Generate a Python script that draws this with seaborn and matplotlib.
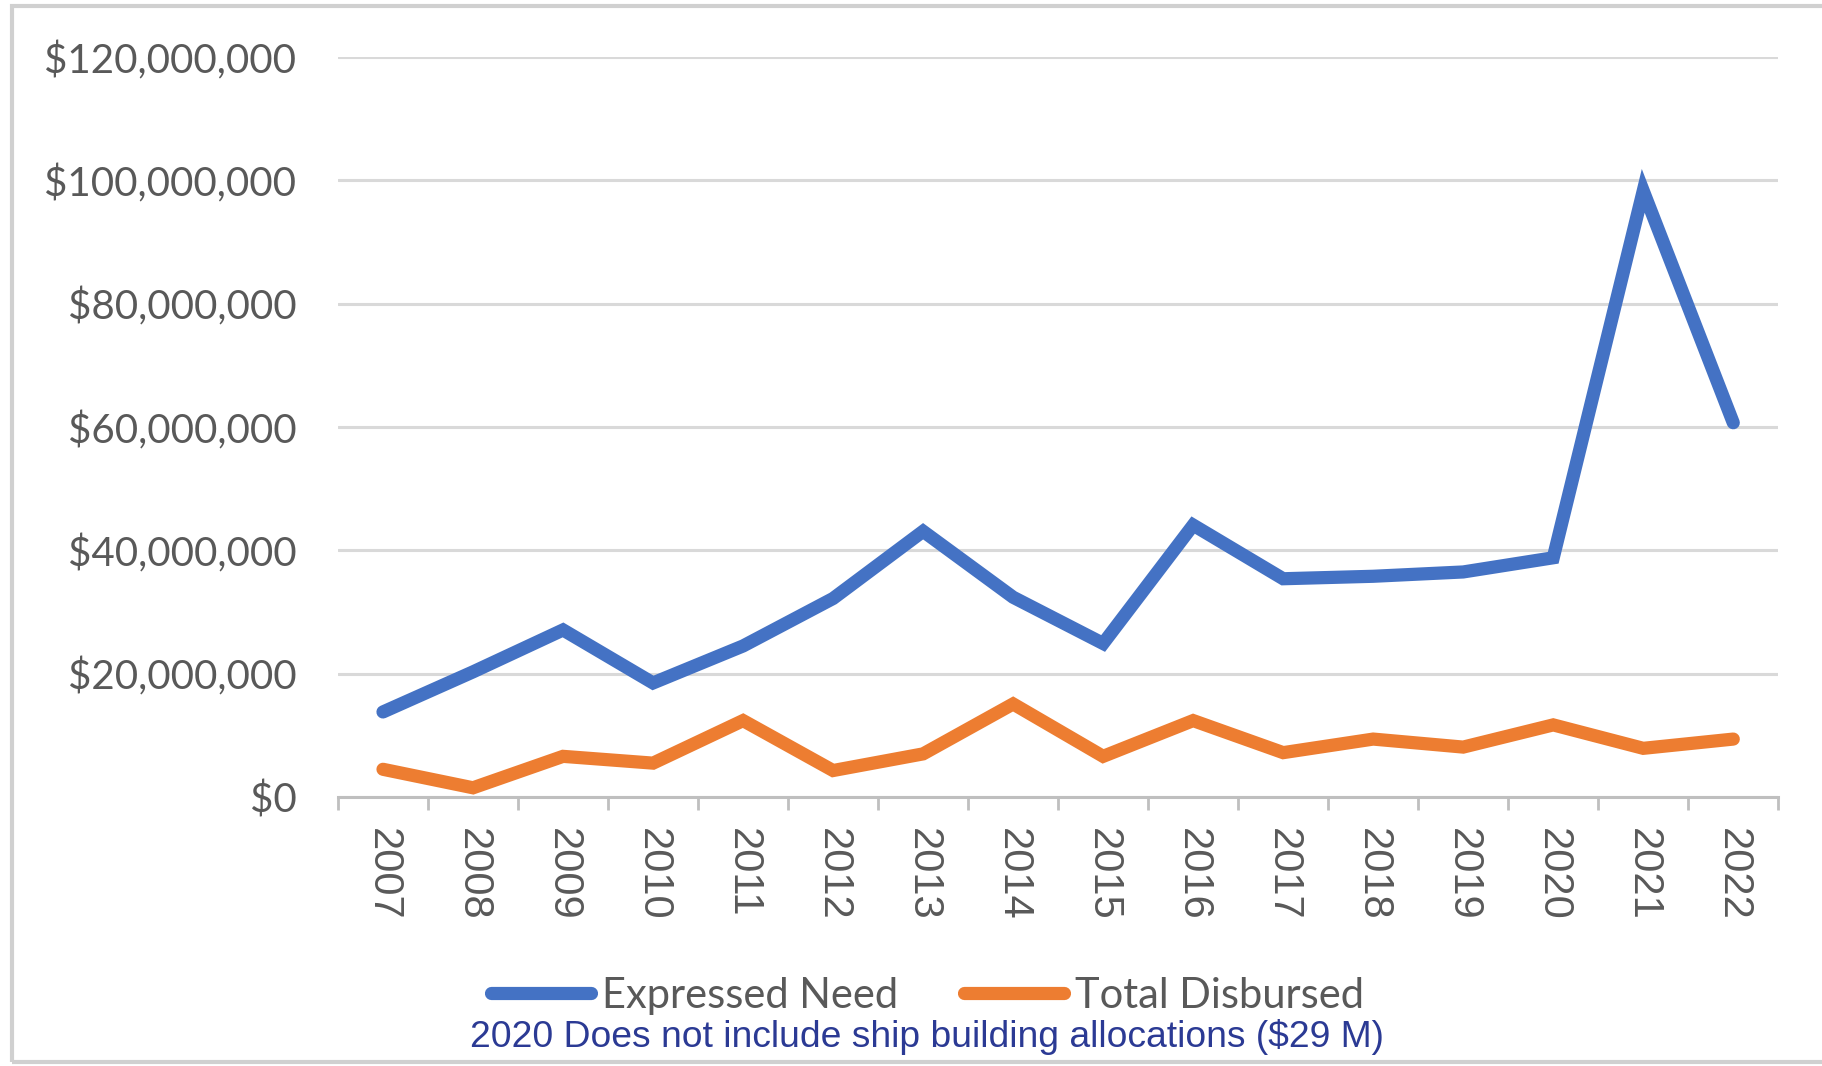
import numpy as np
import pandas as pd
import seaborn as sns
from matplotlib import pyplot as plt
from matplotlib.ticker import FuncFormatter, FixedLocator
from matplotlib.patches import Rectangle

# Данные графика
years = ['2007', '2008', '2009', '2010', '2011', '2012', '2013', '2014',
         '2015', '2016', '2017', '2018', '2019', '2020', '2021', '2022']
expressed_need = [13.8, 20.3, 27.1, 18.5, 24.5, 32.2, 43.1, 32.4,
                  24.9, 44.1, 35.4, 35.8, 36.5, 38.8, 98.3, 60.7]   # млн $
total_disbursed = [4.5, 1.5, 6.6, 5.5, 12.4, 4.3, 7.0, 15.1,
                   6.6, 12.4, 7.2, 9.4, 8.1, 11.7, 7.9, 9.4]        # млн $
series_names = ['Expressed Need', 'Total Disbursed']
note = '2020 Does not include ship building allocations ($29 M)'

blue = '#4472C4'
orange = '#ED7D31'
grey_text = '#595959'

sns.set_theme(style='white')
plt.rcParams['font.family'] = ['Lato', 'DejaVu Sans']

df = pd.DataFrame({
    'idx': list(range(len(years))) * 2,
    'value': [v * 1e6 for v in expressed_need] + [v * 1e6 for v in total_disbursed],
    'series': [series_names[0]] * len(years) + [series_names[1]] * len(years),
})

fig = plt.figure(figsize=(18.22, 10.66), dpi=100)
ax = fig.add_axes([0.1855, 0.2523, 0.7905, 0.6942])

sns.lineplot(data=df, x='idx', y='value', hue='series', palette=[blue, orange],
             linewidth=9.5, ax=ax, legend=False, solid_capstyle='round',
             solid_joinstyle='miter')

ax.set_xlim(-0.5, len(years) - 0.5)
ax.set_ylim(0, 120e6)
ax.set_yticks(np.arange(0, 121e6, 20e6))
ax.yaxis.set_major_formatter(FuncFormatter(lambda v, p: '${:,.0f}'.format(v)))
ax.grid(axis='y', color='#D9D9D9', linewidth=2.2)
ax.set_axisbelow(True)

# подписи лет по центру, засечки на границах категорий
ax.set_xticks(range(len(years)))
ax.set_xticklabels(years, rotation=-90, family=['Liberation Sans', 'DejaVu Sans'],
                   fontsize=30, color=grey_text)
ax.xaxis.set_minor_locator(FixedLocator(np.arange(-0.5, len(years), 1.0)))
ax.tick_params(axis='x', which='major', length=0, pad=22)
ax.tick_params(axis='x', which='minor', length=9, width=2, color='#BFBFBF',
               direction='out', bottom=True)
ax.tick_params(axis='y', length=0, pad=30, labelsize=29, labelcolor=grey_text)

ax.set_xlabel('')
ax.set_ylabel('')
for s in ['left', 'right', 'top']:
    ax.spines[s].set_visible(False)
ax.spines['bottom'].set_color('#BFBFBF')
ax.spines['bottom'].set_linewidth(2.2)

# легенда внизу
handles = [plt.Line2D([], [], color=blue, linewidth=9.5, solid_capstyle='round'),
           plt.Line2D([], [], color=orange, linewidth=9.5, solid_capstyle='round')]
leg = fig.legend(handles, series_names, loc='center', bbox_to_anchor=(0.509, 0.066),
                 ncol=2, frameon=False, fontsize=30, handlelength=2.4,
                 handletextpad=0.25, columnspacing=1.6)
for t in leg.get_texts():
    t.set_color(grey_text)

fig.text(0.509, 0.027, note, ha='center', va='center', fontsize=26.8,
         color='#2B3A94', family=['Liberation Sans', 'DejaVu Sans'])

# рамка вокруг графика
fig.patches.append(Rectangle((0.0068, 0.004), 1.2, 0.99, transform=fig.transFigure,
                             fill=False, edgecolor='#D0D0D0', linewidth=3))

fig.savefig('out.png', dpi=100)
